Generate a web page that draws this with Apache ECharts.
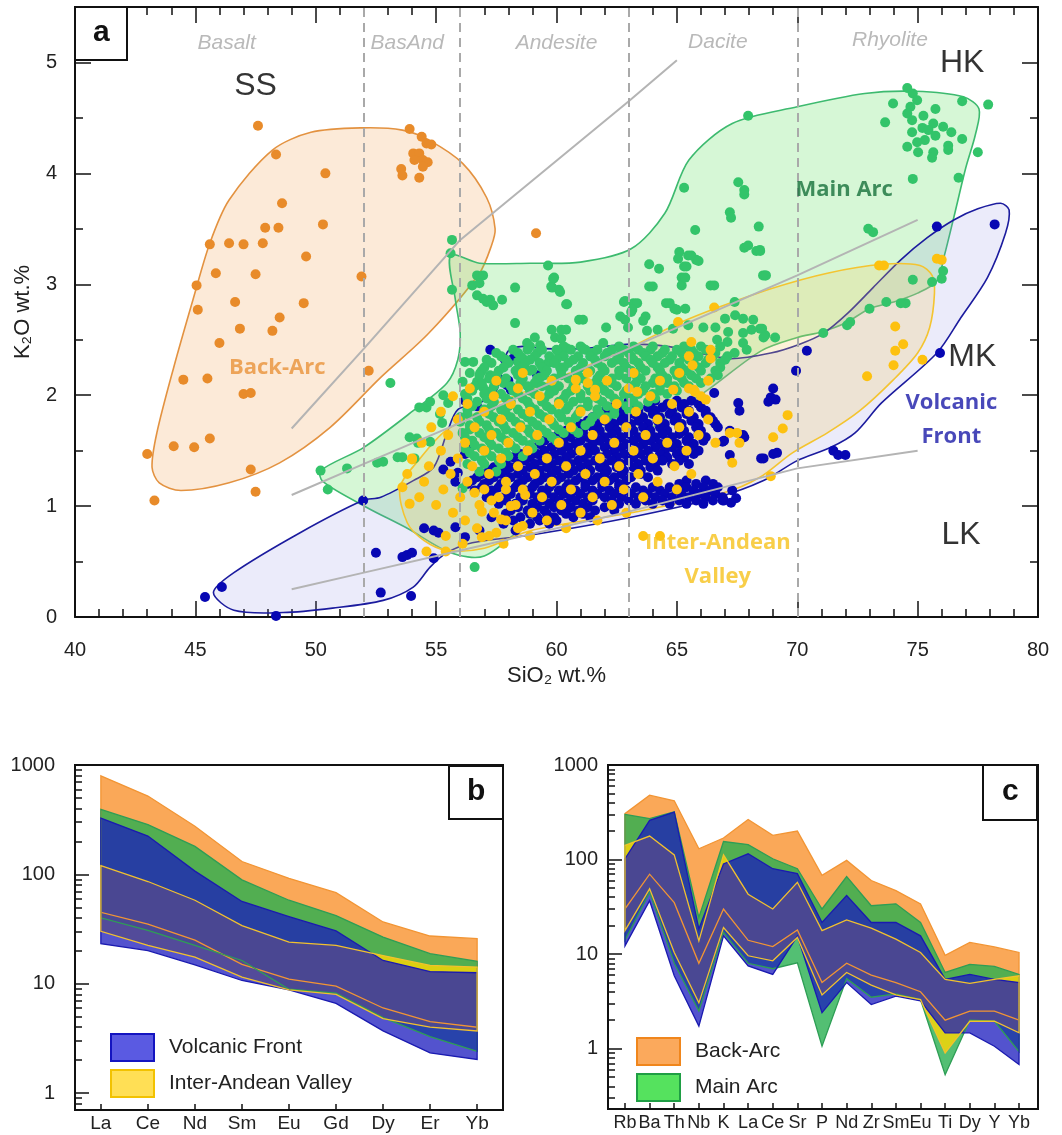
<!DOCTYPE html>
<html>
<head>
<meta charset="utf-8">
<script src="https://cdn.jsdelivr.net/npm/echarts@6/dist/echarts.min.js"></script>
<style>
  html, body { margin: 0; padding: 0; background: #ffffff; }
  #chart { width: 1062px; height: 1135px; }
</style>
</head>
<body>
<div id="chart"></div>
<script>
// ---------- Panel a: K2O vs SiO2 ----------
const backArcPts = [[47.6,4.43],[48.35,4.17],[50.4,4.0],[48.6,3.73],[47.9,3.51],[48.45,3.51],[50.3,3.54],[45.6,3.36],[46.4,3.37],[47.0,3.36],[47.8,3.37],[49.6,3.25],[45.85,3.10],[47.5,3.09],[51.9,3.07],[45.05,2.99],[46.65,2.84],[49.5,2.83],[45.1,2.77],[48.5,2.70],[46.85,2.60],[48.2,2.58],[46.0,2.47],[52.2,2.22],[44.5,2.14],[45.5,2.15],[47.0,2.01],[47.3,2.02],[44.1,1.54],[44.95,1.53],[45.6,1.61],[43.0,1.47],[47.3,1.33],[47.5,1.13],[43.3,1.05],[53.9,4.40],[54.4,4.33],[54.6,4.27],[54.8,4.26],[54.05,4.18],[54.3,4.18],[54.45,4.12],[54.65,4.10],[54.1,4.12],[54.45,4.06],[53.55,4.04],[53.6,3.98],[54.3,3.96],[59.15,3.46]];

const mainArcPts = [[74.57,4.77],[74.8,4.72],[74.98,4.66],[73.98,4.63],[76.85,4.65],[77.93,4.62],[74.7,4.60],[74.57,4.54],[75.24,4.52],[75.74,4.58],[74.77,4.48],[73.65,4.46],[75.65,4.45],[76.06,4.42],[75.2,4.41],[75.45,4.39],[74.77,4.37],[76.4,4.37],[75.74,4.34],[75.3,4.30],[74.98,4.28],[76.85,4.31],[76.27,4.25],[74.57,4.24],[75.02,4.19],[75.65,4.19],[76.27,4.21],[75.6,4.14],[77.5,4.19],[74.8,3.95],[76.7,3.96],[73.15,3.47],[72.95,3.50],[68.4,3.52],[68.45,3.31],[68.66,3.08],[74.8,3.04],[75.6,3.02],[76.0,3.05],[76.06,3.12],[74.5,2.83],[74.3,2.83],[73.7,2.84],[73.0,2.78],[72.2,2.66],[72.07,2.63],[71.08,2.56],[68.54,2.60],[68.67,2.54],[69.08,2.52],
[67.96,4.52],[65.3,3.87],[67.55,3.92],[67.8,3.85],[67.8,3.81],[67.2,3.65],[67.25,3.60],[65.76,3.49],[67.8,3.33],[68.3,3.30],[65.1,3.29],[65.47,3.26],[65.8,3.22],[65.05,3.23],[65.3,3.16],[63.85,3.18],[64.26,3.14],[68.58,3.08],[65.2,3.06],[65.2,2.99],[63.85,2.98],[66.4,2.99],[59.65,3.17],[59.9,3.06],[59.78,2.98],[60.1,2.95],[60.4,2.82],[62.8,2.84],[63.2,2.83],[63.1,2.75],[64.55,2.83],[64.9,2.78],[67.4,2.84],
[55.66,3.40],[55.6,3.28],[55.66,2.95],[56.7,3.08],[56.95,3.08],[56.5,2.99],[56.8,3.01],[56.7,2.90],[56.95,2.87],[57.24,2.86],[57.37,2.81],[57.1,2.84],[57.74,2.86],[58.28,2.97],[59.86,3.05],[59.82,2.97],[60.15,2.93],[60.44,2.82],[58.28,2.65],[59.8,2.59],[60.2,2.59],[60.4,2.59],[59.1,2.52],[59.94,2.52],[60.2,2.51],[58.78,2.47],[59.32,2.45],[56.54,2.30],[53.1,2.11],[56.83,2.20],[57.24,2.18],[56.7,2.12],[56.95,2.07],[58.4,2.30],[58.6,2.33],[59.0,2.23],[59.32,2.16],[59.65,2.29],[60.15,2.25],[59.2,2.11],[59.7,2.07],[60.44,2.42],
[67.96,3.35],[68.46,3.30],[65.6,3.26],[65.9,3.21],[65.4,3.16],[65.35,3.06],[64.0,2.98],[66.55,2.99],[68.7,3.08],[62.85,2.85],[63.35,2.83],[63.15,2.77],[64.7,2.83],[65.0,2.77],[65.35,2.78],[62.65,2.71],[62.85,2.68],[63.7,2.71],[63.6,2.67],[60.94,2.68],[61.1,2.68],[62.06,2.61],[62.97,2.61],[63.76,2.58],[64.2,2.59],[64.84,2.60],[65.47,2.63],[66.1,2.61],[66.6,2.61],[67.0,2.69],[67.42,2.72],[67.75,2.69],[68.17,2.68],[68.46,2.60],[68.1,2.59],[67.13,2.57],[67.75,2.56],[68.6,2.52],[66.67,2.50],[67.1,2.48],[67.75,2.47],[67.9,2.41],[61.94,2.47],[61.1,2.42],[62.65,2.42],
[54.6,1.89],[55.16,1.83],[55.5,1.93],[55.25,1.75],[54.2,1.61],[54.25,1.57],[54.75,1.58],[54.1,1.43],[53.6,1.44],[52.8,1.40],[56.1,1.16],[50.2,1.32],[50.5,1.15],[51.3,1.34],[52.55,1.39],[53.4,1.44],[54.3,1.89],[54.75,1.94],[53.9,1.62],[56.6,0.45],[56.2,2.30],[56.4,2.20],[56.1,2.12],[55.3,2.0]];

// dense Main Arc cluster, one row per K2O level: [K2O, [SiO2 ...]]
const mainArcCore = [
  [2.44,[58.9,60.3,61.0,62.6,63.2,64.0,65.3,66.0,66.8]],
  [2.41,[58.2,58.8,59.4,60.0,60.6,61.2,61.7,62.3,62.8,63.4,63.9,64.5,65.0,65.6,66.2]],
  [2.38,[57.5,58.4,59.2,60.1,61.5,62.1,63.0,63.6,64.4,65.2,65.7,66.6,67.4]],
  [2.35,[57.7,58.5,59.1,59.7,60.3,60.9,61.4,62.0,62.6,63.1,63.7,64.2,64.8,65.3,65.9,66.5,67.1]],
  [2.32,[57.1,57.9,58.9,60.0,60.7,61.6,62.5,63.2,63.9,64.7,65.5,66.3,67.0]],
  [2.29,[57.3,58.0,58.7,59.3,59.9,60.5,61.1,61.7,62.3,62.8,63.4,64.0,64.5,65.1,65.7,66.2,66.8]],
  [2.25,[57.0,57.8,58.6,59.4,60.3,61.0,61.9,62.9,63.5,64.2,65.2,65.9,66.8]],
  [2.22,[56.9,57.6,58.3,58.9,59.6,60.2,60.8,61.4,62.0,62.6,63.1,63.7,64.3,64.9,65.4,66.0,66.6]],
  [2.18,[56.8,57.5,58.4,59.5,60.2,60.9,61.8,62.6,63.3,64.4,65.0,65.6,66.7]],
  [2.15,[57.2,57.9,58.6,59.2,59.9,60.5,61.1,61.7,62.3,62.9,63.5,64.1,64.6,65.2,65.8,66.4]],
  [2.11,[56.9,57.8,58.5,59.1,59.9,60.8,61.6,62.3,63.3,64.0,64.6,65.3,66.0]],
  [2.08,[56.6,57.4,58.1,58.8,59.4,60.1,60.7,61.3,61.9,62.5,63.1,63.7,64.3,64.9,65.5]],
  [2.04,[56.5,57.3,58.2,58.9,59.9,60.6,61.4,62.0,62.9,63.6,64.3,65.0]],
  [2.01,[56.2,57.0,57.7,58.4,59.1,59.7,60.4,61.0,61.6,62.2,62.8,63.4,64.0,64.6]],
  [1.97,[56.3,57.1,57.9,58.6,59.5,60.3,61.0,61.7,62.4,63.1,64.1]],
  [1.94,[56.7,57.4,58.1,58.8,59.4,60.1,60.7,61.3,61.9,62.6,63.2,63.8]],
  [1.90,[56.5,57.3,58.0,58.9,59.6,60.5,61.3,62.1,62.9,63.4]],
  [1.87,[56.3,57.0,57.7,58.4,59.1,59.8,60.4,61.0,61.7,62.4,63.0]],
  [1.83,[56.3,57.2,57.9,58.6,59.3,60.1,60.9,61.8,62.4]],
  [1.80,[56.0,56.7,57.4,58.1,58.8,59.5,60.2,60.8,61.5,62.1]],
  [1.76,[56.0,56.8,57.6,58.3,59.0,59.8,60.5,61.4]],
  [1.73,[56.4,57.1,57.8,58.5,59.2,59.9,60.6,61.2]],
  [1.69,[56.4,57.2,57.9,58.8,59.4,60.1,60.7]],
  [1.66,[56.1,56.8,57.5,58.2,58.9,59.6,60.3,60.9]],
  [1.62,[56.2,57.0,57.7,58.4,59.1,59.8]],
  [1.59,[56.5,57.2,57.9,58.6,59.3,60.0]],
  [1.55,[56.6,57.3,58.1,58.9]],
  [1.52,[56.2,56.9,57.6,58.3,59.0]],
  [1.48,[56.4,57.1,57.9]],
  [1.45,[56.6,57.3,58.0,58.6]],
  [1.41,[56.9,57.6]],
  [1.38,[56.3,57.0,57.7]],
  [1.31,[56.8,57.5]]
];

const volcFrontPts = [[45.4,0.18],[46.1,0.27],[48.35,0.01],[51.97,1.05],[52.5,0.58],[52.7,0.22],[53.6,0.54],[53.8,0.56],[54.0,0.58],[53.96,0.19],[54.9,0.53],[54.5,0.80],[54.9,0.78],[55.1,0.76],[55.8,0.81],[56.2,0.72],[57.25,2.41],[57.65,2.14],[57.86,2.32],[58.2,2.33],[58.0,2.13],[57.95,2.09],[75.8,3.52],[78.2,3.54],[75.93,2.38],[70.4,2.40],[69.95,2.22],[69.0,2.06],[68.9,1.98],[69.1,1.96],[68.8,1.94],[71.5,1.50],[71.7,1.46],[72.0,1.46],[68.6,1.43],[69.16,1.48],[67.55,1.93],[67.6,1.86],[66.55,2.02],[67.8,1.62],[67.2,1.68],[66.96,1.59],[68.5,1.43],[69.0,1.47],[66.96,1.05],[67.25,1.03],[67.46,1.07],[67.75,1.64],[66.9,1.58],[67.2,1.46],[67.3,1.14],[66.9,1.05],[55.6,1.40],[55.9,1.30],[56.2,1.47],[55.8,1.22],[56.5,1.55],[55.3,1.33],[56.2,1.95],[56.7,1.90],[57.3,2.00],[58.1,2.05],[59.2,2.18]];

const volcFrontCore = [
  [1.95,[63.0,64.1,65.0,65.6]],
  [1.92,[62.6,63.2,63.9,64.6,65.3,65.9]],
  [1.89,[62.3,63.1,63.8,64.4,65.2,66.0]],
  [1.86,[62.0,62.7,63.4,64.1,64.8,65.5,66.2]],
  [1.83,[61.8,62.6,63.2,64.0,64.7,65.4,66.2]],
  [1.80,[61.5,62.2,62.9,63.6,64.3,65.0,65.7,66.4]],
  [1.77,[61.3,62.0,62.7,63.4,64.2,64.9,65.6,66.5]],
  [1.74,[61.0,61.7,62.4,63.1,63.8,64.5,65.2,65.9,66.6]],
  [1.71,[60.7,61.5,62.2,62.9,63.6,64.3,65.1,65.8,66.7]],
  [1.68,[60.4,61.1,61.8,62.5,63.2,63.9,64.6,65.3,66.0]],
  [1.65,[60.1,60.9,61.6,62.3,63.0,63.7,64.4,65.1,65.9]],
  [1.62,[59.8,60.6,61.3,62.0,62.7,63.4,64.1,64.8,65.5,66.2]],
  [1.59,[59.5,60.3,61.0,61.8,62.5,63.2,63.9,64.6,65.4,66.1]],
  [1.56,[59.3,60.0,60.8,61.5,62.2,62.9,63.6,64.3,65.0,65.7]],
  [1.53,[59.0,59.8,60.5,61.3,62.0,62.7,63.4,64.1,64.8,65.5]],
  [1.50,[58.8,59.5,60.2,60.9,61.6,62.4,63.1,63.8,64.5,65.2,65.9]],
  [1.47,[58.5,59.2,59.9,60.6,61.3,62.1,62.8,63.5,64.3,65.0,65.7]],
  [1.44,[58.2,58.9,59.7,60.4,61.1,61.8,62.5,63.2,63.9,64.6,65.3]],
  [1.41,[57.9,58.7,59.4,60.1,60.9,61.6,62.3,63.0,63.7,64.4,65.1]],
  [1.38,[57.7,58.4,59.1,59.8,60.6,61.3,62.0,62.7,63.4,64.1,64.8,65.5]],
  [1.35,[57.4,58.1,58.9,59.6,60.3,61.0,61.8,62.5,63.2,63.9]],
  [1.32,[57.2,57.9,58.6,59.3,60.0,60.7,61.4,62.1,62.8,63.5,64.2]],
  [1.29,[56.9,57.7,58.4,59.1,59.8,60.5,61.3,62.0,62.7,63.5]],
  [1.26,[56.7,57.4,58.1,58.8,59.5,60.2,61.0,61.7,62.4,63.1,63.8]],
  [1.23,[56.5,57.2,57.9,58.6,59.3,60.0,60.8,61.5,62.2,62.9,65.4,66.2]],
  [1.20,[56.3,57.0,57.7,58.4,59.1,59.8,60.5,61.2,61.9,62.6,65.1,65.8,66.5]],
  [1.17,[56.9,57.6,58.3,59.0,59.7,60.4,61.2,61.9,62.6,63.3,64.0,64.7,65.4,66.1,66.7]],
  [1.14,[56.6,57.3,58.0,58.7,59.4,60.1,60.8,61.5,62.2,62.9,63.6,64.3,65.0,65.7,66.4]],
  [1.11,[57.4,58.1,58.9,59.6,60.3,61.0,61.7,62.4,63.1,63.8,64.5,65.2,65.9,66.6]],
  [1.08,[57.1,57.8,58.5,59.2,59.9,60.6,61.3,62.0,62.7,63.4,64.1,64.8,65.5,66.2,66.9]],
  [1.05,[57.9,58.6,59.4,60.1,60.8,61.5,62.3,63.0,63.7,64.4,65.1,65.8,66.5]],
  [1.02,[57.6,58.3,59.0,59.7,60.4,61.1,62.6,63.3,64.0,64.7,65.4,66.1]],
  [0.99,[58.4,59.2,59.9,60.6,61.3,62.0]],
  [0.96,[58.1,58.8,59.5,60.2,60.9,61.6,62.4]],
  [0.93,[57.9,58.9,59.6,60.4,61.1]],
  [0.90,[57.3,58.5,59.2,59.9,60.7,61.4]],
  [0.87,[58.2,59.3,60.0]],
  [0.84,[57.8,58.9,59.7]],
  [0.78,[56.8,58.3]]
];

const interAndeanPts = [[73.6,3.17],[76.0,3.22],[74.07,2.62],[74.4,2.46],[74.07,2.40],[74.0,2.27],[72.9,2.17],[75.2,2.32],[69.6,1.82],[69.4,1.70],[69.0,1.62],[68.9,1.27],[67.3,1.39],[67.2,1.66],[67.5,1.66],[67.6,1.57],[65.7,2.05],[66.2,1.96],[65.05,2.66],[75.8,3.23],[73.4,3.17],[66.55,2.79],[54.0,1.42],[53.6,1.17],[53.9,1.02],[65.6,2.48],[66.4,2.41],[66.4,2.33],[65.5,2.35],[65.65,2.27],[60.8,2.14],[61.3,2.11],[61.6,2.05],[63.35,2.03],[64.85,2.05],[65.75,2.03],[56.9,0.95],[57.3,1.05],[57.7,0.88],[58.1,1.00],[56.6,1.12],[57.5,0.76],[58.6,0.82],[56.9,0.72],[57.9,1.15],[58.7,1.10]];

const interAndeanCore = [
  [2.20,[58.6,61.3,63.2,65.1]],
  [2.13,[57.5,59.8,62.1,64.3,66.3]],
  [2.06,[56.4,58.4,60.8,63.0,65.5]],
  [1.99,[55.7,57.4,59.3,61.6,63.9,66.0]],
  [1.92,[56.3,58.1,60.1,62.5,64.8]],
  [1.85,[55.2,57.0,58.9,61.0,63.3,65.5]],
  [1.78,[55.9,57.7,59.7,62.0,64.2,66.3]],
  [1.71,[54.8,56.6,58.5,60.6,62.9,65.1]],
  [1.64,[55.5,57.3,59.2,61.5,63.7,65.9]],
  [1.57,[54.4,56.2,58.0,60.1,62.4,64.6,66.6]],
  [1.50,[55.2,57.0,58.8,61.0,63.2,65.4]],
  [1.43,[54.0,55.9,57.7,59.6,61.8,64.0]],
  [1.36,[54.7,56.5,58.4,60.4,62.6,64.9]],
  [1.29,[53.8,55.6,57.2,59.1,61.2,63.4,65.6]],
  [1.22,[54.5,56.3,57.9,59.8,62.0,64.2]],
  [1.15,[55.3,57.0,58.6,60.6,62.8,65.0]],
  [1.08,[54.3,56.0,57.6,59.4,61.5,63.6]],
  [1.01,[55.0,56.8,58.3,60.2,62.3]],
  [0.94,[55.7,57.4,59.0,61.0,62.9]],
  [0.87,[56.2,57.9,59.6,61.7]],
  [0.80,[56.7,58.4,60.4]],
  [0.73,[55.4,57.2,58.9,63.6,64.3]],
  [0.66,[56.1,57.8]],
  [0.59,[54.6,55.4]]
];

// field outlines (SiO2, K2O)
const backArcEnv = [[51.9,4.41],[53.6,4.39],[54.7,4.30],[56.1,4.09],[57.1,3.78],[57.45,3.5],[57.3,3.35],[56.8,3.10],[54.7,2.56],[52.7,2.16],[50.6,1.71],[48.5,1.39],[46.4,1.21],[44.4,1.14],[43.5,1.21],[43.2,1.35],[43.4,1.66],[44.1,2.25],[44.9,2.86],[45.6,3.37],[46.4,3.76],[48.2,4.21],[49.8,4.37]];
const mainArcEnv = [[55.6,3.26],[56.8,3.19],[58.9,3.19],[61.0,3.20],[63.1,3.32],[64.5,3.64],[65.5,4.12],[67.3,4.45],[70.0,4.60],[72.8,4.72],[74.9,4.74],[76.9,4.69],[77.55,4.58],[77.4,4.35],[77.0,4.05],[76.5,3.6],[76.1,3.25],[75.8,3.03],[75.0,2.92],[74.0,2.84],[73.0,2.78],[72.0,2.65],[71.0,2.57],[70.0,2.52],[68.5,2.40],[66.3,2.05],[63.6,1.65],[60.85,1.21],[58.8,0.85],[57.0,0.55],[55.6,0.58],[53.8,0.80],[52.1,0.99],[50.3,1.22],[50.2,1.32],[52.0,1.53],[54.05,1.86],[55.45,2.11],[55.9,2.32],[56.0,2.56],[55.8,2.86]];
const volcFrontEnv = [[45.75,0.22],[46.6,0.06],[48.65,0.04],[50.7,0.08],[52.8,0.15],[54.05,0.27],[54.75,0.45],[55.45,0.58],[56.5,0.67],[58.95,0.74],[63.1,0.90],[66.7,1.08],[68.6,1.23],[70.0,1.41],[71.4,1.53],[72.4,1.66],[73.5,1.93],[75.8,2.38],[76.8,2.70],[77.9,3.06],[78.65,3.46],[78.8,3.67],[78.45,3.73],[77.5,3.68],[76.5,3.58],[75.4,3.42],[74.3,3.22],[73.15,2.97],[72.1,2.74],[71.1,2.56],[70.1,2.46],[68.9,2.38],[67.25,2.33],[65.9,2.38],[64.6,2.44],[63.1,2.46],[61.0,2.42],[59.5,2.42],[58.6,2.44],[58.0,2.40],[57.75,2.25],[57.5,2.04],[56.8,1.93],[55.9,1.87],[55.45,1.66],[54.9,1.35],[54.05,1.23],[52.7,1.08],[51.95,1.05],[49.35,0.76],[46.6,0.40]];
const interAndeanEnv = [[53.5,1.17],[54.3,1.42],[55.4,1.68],[57.25,1.90],[58.9,2.05],[60.55,2.20],[63.05,2.43],[65.1,2.65],[66.7,2.79],[68.9,2.96],[71.25,3.10],[73.55,3.18],[75.1,3.17],[75.6,3.08],[75.7,2.92],[75.5,2.61],[75.0,2.38],[74.0,2.14],[72.6,1.86],[71.25,1.66],[69.8,1.48],[68.45,1.26],[66.95,1.12],[63.1,0.94],[58.95,0.78],[57.0,0.62],[55.45,0.60],[54.5,0.69],[53.8,0.85]];

// K2O series boundaries
const shoshoniteLine = [[49,1.70],[52,2.42],[56,3.40],[63,4.65],[65,5.02]];
const highKLine = [[49,1.10],[52,1.38],[56,1.75],[63,2.42],[70,3.08],[75,3.58]];
const lowKLine = [[49,0.25],[52,0.40],[56,0.60],[63,0.95],[70,1.34],[75,1.50]];
const rockDivides = [52, 56, 63, 70];

const rockNames = ['Basalt', 'BasAnd', 'Andesite', 'Dacite', 'Rhyolite'];
const rockNameAt = [[46.3,5.17],[53.8,5.17],[60.0,5.17],[66.7,5.18],[73.85,5.2]];
const seriesNames = ['SS', 'HK', 'MK', 'LK'];
const seriesNameAt = [[47.5,4.79],[76.85,4.99],[77.27,2.34],[76.8,0.74]];

// ---------- Panel b: REE ----------
const reeCats = ['La','Ce','Nd','Sm','Eu','Gd','Dy','Er','Yb'];
const backArcHighB = [796,520,275,131,92,68,36.7,27.3,25.8];
const backArcLowB = [45,35,25,15,11,9.5,6,4.5,4];
const mainArcHighB = [392,285,180,89,58,42,26.7,18.8,16];
const mainArcLowB = [40,30.8,22.4,16.3,8.9,8.2,4.9,3.28,2.41];
const volcFrontHighB = [327,224,107,56.5,41,30.4,16.3,12.9,12.6];
const volcFrontLowB = [23.2,20.1,14.9,10.7,8.8,6.6,3.7,2.33,2.03];
const interAndeanHighB = [120,86,58,34,24,22.4,18.1,14.7,14.2];
const interAndeanLowB = [30.1,22.4,17.5,11.5,8.8,8.0,4.8,4.0,3.7];

// ---------- Panel c: trace elements ----------
const spiderCats = ['Rb','Ba','Th','Nb','K','La','Ce','Sr','P','Nd','Zr','Sm','Eu','Ti','Dy','Y','Yb'];
const backArcHighC = [306,480,418,130,169,265,180,200,68,98,60,47,34,9.7,13.3,11.9,10.4];
const backArcLowC = [30,70,35,8,30,14,12,18,5,8,6,5,4,2,2.5,2.5,2];
const mainArcHighC = [300,271,320,24.4,155,144,102,80,30,66,32.5,34,21.6,6.4,7.8,7.4,6.1];
const mainArcLowC = [14,45,8,2.5,17,8,7,8.1,1.06,5.5,3.5,3.8,3.3,0.53,2.0,1.95,0.93];
const volcFrontHighC = [102,260,318,18.4,90,115,80,71,21.6,41.6,21.6,21.6,15.6,5.4,6.1,5.4,5.0];
const volcFrontLowC = [12.2,36.7,5.9,1.73,15.6,7.5,6.1,15.5,2.4,5.0,2.93,3.6,3.2,1.47,1.47,1.06,0.68];
const interAndeanHighC = [141,177,112,13.8,112,43,30,57.5,17.7,23,18.8,14.4,10.4,5.4,4.9,5.4,5.9];
const interAndeanLowC = [17.7,49,10.4,3.05,19.1,9.6,8.5,15,3.7,6.4,4.7,3.7,3.3,0.9,1.95,1.95,1.47];

const logMajor = [1, 10, 100, 1000];
const logMinorB = [0.8,0.9,2,3,4,5,6,7,8,9,20,30,40,50,60,70,80,90,200,300,400,500,600,700,800,900];
const logMinorC = [0.3,0.4,0.5,0.6,0.7,0.8,0.9,2,3,4,5,6,7,8,9,20,30,40,50,60,70,80,90,200,300,400,500,600,700,800,900];

// ---------- helpers ----------
const INK = '#111111';
const FONT = '"Liberation Sans", Arial, sans-serif';
const LABEL_FONT = '"Open Sans", "Liberation Sans", sans-serif';

function expandRows(rows) {
  const out = [];
  rows.forEach(([k2o, list]) => list.forEach(si => out.push([si, k2o])));
  return out;
}

function envelopeSeries(pts, fill, stroke) {
  return {
    type: 'custom', xAxisIndex: 0, yAxisIndex: 0, silent: true, clip: true,
    data: [pts[0]],
    renderItem: (params, api) => ({
      type: 'polygon',
      shape: { points: pts.map(p => api.coord(p)), smooth: 0.3 },
      style: { fill: fill, stroke: stroke, lineWidth: 1.6 }
    })
  };
}

function scatterSeries(name, data, color) {
  return {
    type: 'scatter', name: name, xAxisIndex: 0, yAxisIndex: 0, silent: true,
    symbol: 'circle', symbolSize: 10, data: data,
    itemStyle: { color: color, opacity: 1 }
  };
}

function bandSeries(name, lower, upper, fill, stroke, xi, yi, filled) {
  return {
    type: 'custom', name: filled ? name : undefined, xAxisIndex: xi, yAxisIndex: yi, silent: true, clip: true,
    itemStyle: { color: fill },
    data: upper.map((v, i) => [i, v]),
    renderItem: (params, api) => {
      if (params.dataIndex !== 0) return null;
      const top = upper.map((v, i) => api.coord([i, v]));
      const bottom = lower.map((v, i) => api.coord([i, v])).reverse();
      return {
        type: 'polygon',
        shape: { points: top.concat(bottom) },
        style: filled ? { fill: fill, stroke: null } : { fill: null, stroke: stroke, lineWidth: 1.3 }
      };
    }
  };
}

function lineSeries(pts) {
  return {
    type: 'line', xAxisIndex: 0, yAxisIndex: 0, silent: true, data: pts,
    showSymbol: false, symbol: 'none',
    lineStyle: { color: '#b4b4b4', width: 2 }
  };
}

function textItems(names, at, style) {
  return names.map((n, i) => ({ name: n, value: at[i], label: style }));
}

const rockStyle = { show: true, position: 'inside', formatter: '{b}', color: '#a8a8a8', fontSize: 21, fontStyle: 'italic', fontFamily: FONT };
const fieldStyle = { show: true, position: 'inside', formatter: '{b}', color: '#000', fontSize: 32, fontFamily: FONT };
const groupStyle = (c) => ({ show: true, position: 'inside', formatter: '{b}', color: c, fontSize: 22, fontWeight: 'bold', fontFamily: LABEL_FONT, lineHeight: 34, align: 'center' });

const labelData = []
  .concat(textItems(rockNames, rockNameAt, rockStyle))
  .concat(textItems(seriesNames, seriesNameAt, fieldStyle))
  .concat([
    { name: 'Back-Arc', value: [48.4, 2.25], label: groupStyle('#e8923a') },
    { name: 'Main Arc', value: [71.95, 3.85], label: groupStyle('#17703b') },
    { name: 'Volcanic\nFront', value: [76.4, 1.78], label: groupStyle('#1a1aa8') },
    { name: 'Inter-Andean\nValley', value: [66.7, 0.52], label: groupStyle('#f6c21c') }
  ]);

// ---------- axes ----------
const tickStyle = { color: INK, width: 1.5 };
const numFmt = v => String(Math.round(v * 1000) / 1000);

const xAxes = [
  { type: 'value', gridIndex: 0, position: 'bottom', min: 40, max: 80, interval: 5,
    axisLine: { show: true, onZero: false, lineStyle: { color: INK, width: 2 } },
    axisTick: { show: true, inside: true, length: 16, lineStyle: tickStyle },
    minorTick: { show: true, splitNumber: 5, length: 8, lineStyle: tickStyle },
    splitLine: { show: false }, minorSplitLine: { show: false },
    axisLabel: { fontSize: 20, color: '#222', margin: 23, fontFamily: FONT, formatter: numFmt },
    name: 'SiO₂ wt.%', nameLocation: 'middle', nameGap: 34,
    nameTextStyle: { fontSize: 22, color: '#222', fontFamily: FONT } },
  { type: 'value', gridIndex: 0, position: 'top', min: 40, max: 80, interval: 5,
    axisLine: { show: true, onZero: false, lineStyle: { color: INK, width: 2 } },
    axisTick: { show: true, inside: true, length: 16, lineStyle: tickStyle },
    minorTick: { show: true, splitNumber: 5, length: 8, lineStyle: tickStyle },
    splitLine: { show: false }, minorSplitLine: { show: false },
    axisLabel: { show: false } },
  { type: 'value', gridIndex: 1, position: 'bottom', min: -0.55, max: 8.55,
    axisLine: { show: false, onZero: false },
    axisTick: { show: true, inside: true, length: 6, customValues: reeCats.map((c, i) => i), lineStyle: tickStyle },
    axisLabel: { customValues: reeCats.map((c, i) => i), formatter: v => reeCats[Math.round(v)], fontSize: 19, color: '#222', margin: 4, fontFamily: FONT },
    splitLine: { show: false } },
  { type: 'value', gridIndex: 2, position: 'bottom', min: -0.69, max: 16.77,
    axisLine: { show: false, onZero: false },
    axisTick: { show: true, inside: true, length: 6, customValues: spiderCats.map((c, i) => i), lineStyle: tickStyle },
    axisLabel: { customValues: spiderCats.map((c, i) => i), formatter: v => spiderCats[Math.round(v)], fontSize: 18, color: '#222', margin: 5, fontFamily: FONT },
    splitLine: { show: false } }
];

const yMajorA = [0, 1, 2, 3, 4, 5];
const yMinorA = [0.5, 1.5, 2.5, 3.5, 4.5];
function yAxisA(position, major, withLabels) {
  return {
    type: 'value', gridIndex: 0, position: position, min: 0, max: 5.5,
    axisLine: { show: major, onZero: false, lineStyle: { color: INK, width: 2 } },
    axisTick: { show: true, inside: true, length: major ? 16 : 8, customValues: major ? yMajorA : yMinorA, lineStyle: tickStyle },
    axisLabel: withLabels ? { customValues: yMajorA, fontSize: 20, color: '#222', margin: 18, fontFamily: FONT, formatter: numFmt } : { show: false },
    splitLine: { show: false }
  };
}
function logAxis(gridIndex, min, ticks, major, margin) {
  return {
    type: 'log', logBase: 10, gridIndex: gridIndex, position: 'left', min: min, max: 1000,
    axisLine: { show: false, onZero: false },
    axisTick: { show: true, inside: true, length: major ? 14 : 7, customValues: ticks, lineStyle: tickStyle },
    axisLabel: major ? { customValues: logMajor, fontSize: 20, color: '#222', margin: margin, fontFamily: FONT, formatter: v => String(Math.round(v)) } : { show: false },
    splitLine: { show: false }, minorTick: { show: false }
  };
}

const yAxes = [
  Object.assign(yAxisA('left', true, true), {
    name: 'K₂O wt.%', nameLocation: 'middle', nameGap: 41, nameRotate: 90,
    nameTextStyle: { fontSize: 22, color: '#222', fontFamily: FONT }
  }),
  yAxisA('left', false, false),
  yAxisA('right', true, false),
  yAxisA('right', false, false),
  logAxis(1, 0.7, logMajor, true, 20),
  logAxis(1, 0.7, logMinorB, false, 0),
  logAxis(2, 0.23, logMajor, true, 10),
  logAxis(2, 0.23, logMinorC, false, 0)
];

// ---------- colours ----------
const C = {
  back: { pt: '#e88b2a', env: 'rgba(240,150,60,0.2)', edge: '#e39240', band: 'rgba(250,168,88,1)', bandEdge: '#f29534' },
  main: { pt: '#33c46a', env: 'rgba(90,225,90,0.25)', edge: '#3dba6f', band: 'rgba(40,175,80,0.8)', bandEdge: '#2e9e55' },
  volc: { pt: '#0707b3', env: 'rgba(130,130,225,0.16)', edge: '#1b1b9e', band: 'rgba(25,25,190,0.75)', bandEdge: '#1a1ab0' },
  iav:  { pt: '#fdc10f', env: 'rgba(245,205,100,0.25)', edge: '#f4c430', band: 'rgba(255,215,0,0.8)', bandEdge: '#f2c12e' }
};

const series = [
  envelopeSeries(backArcEnv, C.back.env, C.back.edge),
  envelopeSeries(mainArcEnv, C.main.env, C.main.edge),
  envelopeSeries(volcFrontEnv, C.volc.env, C.volc.edge),
  envelopeSeries(interAndeanEnv, C.iav.env, C.iav.edge),
  lineSeries(shoshoniteLine),
  lineSeries(highKLine),
  lineSeries(lowKLine),
  {
    type: 'line', xAxisIndex: 0, yAxisIndex: 0, data: [], silent: true,
    markLine: {
      silent: true, symbol: ['none', 'none'], label: { show: false },
      lineStyle: { color: '#a9a9a9', width: 2, type: [9, 6] },
      data: rockDivides.map(v => ({ xAxis: v }))
    }
  },
  scatterSeries('Back-Arc', backArcPts, C.back.pt),
  scatterSeries('Volcanic Front', volcFrontPts.concat(expandRows(volcFrontCore)), C.volc.pt),
  scatterSeries('Main Arc', mainArcPts.concat(expandRows(mainArcCore)), C.main.pt),
  scatterSeries('Inter-Andean Valley', interAndeanPts.concat(expandRows(interAndeanCore)), C.iav.pt),
  {
    type: 'scatter', xAxisIndex: 0, yAxisIndex: 0, silent: true, symbolSize: 1,
    itemStyle: { color: 'rgba(0,0,0,0)' }, data: labelData, z: 5
  },
  // panel b bands
  bandSeries('Back-Arc', backArcLowB, backArcHighB, C.back.band, C.back.bandEdge, 2, 4, true),
  bandSeries('Main Arc', mainArcLowB, mainArcHighB, C.main.band, C.main.bandEdge, 2, 4, true),
  bandSeries('Inter-Andean Valley', interAndeanLowB, interAndeanHighB, C.iav.band, C.iav.bandEdge, 2, 4, true),
  bandSeries('Volcanic Front', volcFrontLowB, volcFrontHighB, C.volc.band, C.volc.bandEdge, 2, 4, true),
  bandSeries('Back-Arc', backArcLowB, backArcHighB, C.back.band, C.back.bandEdge, 2, 4, false),
  bandSeries('Main Arc', mainArcLowB, mainArcHighB, C.main.band, C.main.bandEdge, 2, 4, false),
  bandSeries('Volcanic Front', volcFrontLowB, volcFrontHighB, C.volc.band, C.volc.bandEdge, 2, 4, false),
  bandSeries('Inter-Andean Valley', interAndeanLowB, interAndeanHighB, C.iav.band, C.iav.bandEdge, 2, 4, false),
  // panel c bands
  bandSeries('Back-Arc', backArcLowC, backArcHighC, C.back.band, C.back.bandEdge, 3, 6, true),
  bandSeries('Main Arc', mainArcLowC, mainArcHighC, C.main.band, C.main.bandEdge, 3, 6, true),
  bandSeries('Inter-Andean Valley', interAndeanLowC, interAndeanHighC, C.iav.band, C.iav.bandEdge, 3, 6, true),
  bandSeries('Volcanic Front', volcFrontLowC, volcFrontHighC, C.volc.band, C.volc.bandEdge, 3, 6, true),
  bandSeries('Back-Arc', backArcLowC, backArcHighC, C.back.band, C.back.bandEdge, 3, 6, false),
  bandSeries('Main Arc', mainArcLowC, mainArcHighC, C.main.band, C.main.bandEdge, 3, 6, false),
  bandSeries('Volcanic Front', volcFrontLowC, volcFrontHighC, C.volc.band, C.volc.bandEdge, 3, 6, false),
  bandSeries('Inter-Andean Valley', interAndeanLowC, interAndeanHighC, C.iav.band, C.iav.bandEdge, 3, 6, false)
];

const boxTitle = (text, left, top, padding) => ({
  text: text, left: left, top: top, padding: padding,
  borderColor: INK, borderWidth: 2, backgroundColor: '#ffffff',
  textStyle: { fontSize: 30, fontWeight: 'bold', color: INK, fontFamily: FONT }
});

const legendText = { fontSize: 21, color: '#222', fontFamily: FONT, padding: [0, 0, 0, 10] };

const option = {
  animation: false,
  backgroundColor: '#ffffff',
  title: [
    boxTitle('a', 75, 7, [11, 18, 12, 18]),
    boxTitle('b', 449, 766, [11, 18, 12, 18]),
    boxTitle('c', 983, 765, [12, 19, 13, 19])
  ],
  legend: [
    { left: 105, top: 1028, orient: 'vertical', itemWidth: 43, itemHeight: 27, itemGap: 7, selectedMode: false,
      textStyle: legendText,
      data: [
        { name: 'Volcanic Front', icon: 'rect', itemStyle: { color: '#5a5ae2', borderColor: '#1414c0', borderWidth: 2 } },
        { name: 'Inter-Andean Valley', icon: 'rect', itemStyle: { color: '#ffdf55', borderColor: '#f2c200', borderWidth: 2 } }
      ] },
    { left: 631, top: 1032, orient: 'vertical', itemWidth: 43, itemHeight: 27, itemGap: 7, selectedMode: false,
      textStyle: legendText,
      data: [
        { name: 'Back-Arc', icon: 'rect', itemStyle: { color: '#fba95c', borderColor: '#f0861c', borderWidth: 2 } },
        { name: 'Main Arc', icon: 'rect', itemStyle: { color: '#55e25e', borderColor: '#1f9e44', borderWidth: 2 } }
      ] }
  ],
  grid: [
    { left: 75, top: 7, width: 963, height: 610, containLabel: false, outerBoundsMode: 'none' },
    { left: 75, top: 765, width: 428, height: 345, show: true, borderColor: INK, borderWidth: 2, backgroundColor: 'rgba(0,0,0,0)', containLabel: false, outerBoundsMode: 'none' },
    { left: 608, top: 765, width: 430, height: 344, show: true, borderColor: INK, borderWidth: 2, backgroundColor: 'rgba(0,0,0,0)', containLabel: false, outerBoundsMode: 'none' }
  ],
  xAxis: xAxes,
  yAxis: yAxes,
  series: series
};

const chart = echarts.init(document.getElementById('chart'), null, { renderer: 'canvas' });
chart.setOption(option);
</script>
</body>
</html>
